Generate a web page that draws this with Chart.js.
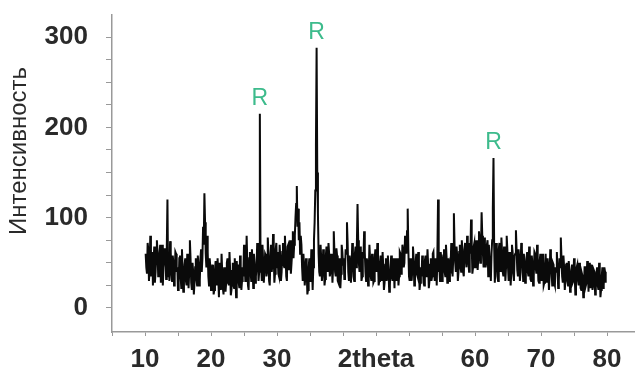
<!DOCTYPE html>
<html><head><meta charset="utf-8">
<script src="https://cdn.jsdelivr.net/npm/chart.js@4"></script>
<style>html,body{margin:0;padding:0;background:#fff}#wrap{width:635px;height:379px}</style>
</head><body><div id="wrap"><canvas id="c" width="635" height="379"></canvas></div>
<script>
// 2theta grid (degrees)
const thetaStart = 10.1;
const thetaStep = 0.1;
// intensity, one value per 0.1 deg from 10.1
const intensity = [
  60,45,38,72,65,30,42,80,35,55,62,25,50,68,28,40,58,75,62,35,
  48,60,70,28,40,70,25,45,52,66,58,32,65,120,35,50,30,74,62,38,
  30,58,50,25,35,62,60,40,45,20,28,55,58,35,22,65,42,18,30,48,
  55,30,25,60,48,22,40,75,55,28,20,50,40,15,28,45,55,32,25,58,
  48,25,30,55,65,40,55,90,70,127,95,60,45,80,62,35,25,55,45,20,
  30,48,40,15,20,42,52,30,25,55,35,12,50,38,20,60,40,22,15,45,
  40,18,28,50,55,30,25,62,42,14,20,40,50,25,22,55,38,12,52,35,
  48,28,22,58,45,20,30,45,35,70,55,30,40,80,50,25,20,55,62,40,
  30,65,45,22,60,50,28,35,45,72,55,30,40,215,60,45,30,70,52,28,
  42,60,58,35,40,78,62,30,25,55,70,40,48,82,60,28,38,65,72,45,
  62,38,35,70,55,30,40,62,72,48,45,80,60,35,30,68,70,42,48,75,
  38,50,62,85,55,70,80,100,115,135,90,110,75,95,60,80,70,45,30,60,
  48,25,35,55,42,15,20,45,55,30,35,65,50,20,45,75,95,130,180,288,
  150,105,60,40,35,70,55,30,40,65,50,25,32,58,68,45,40,72,60,35,
  40,60,52,28,45,85,62,40,35,66,58,30,28,55,45,22,38,70,62,48,
  55,32,40,65,60,95,72,40,30,58,50,28,45,72,62,35,30,60,68,45,
  70,115,75,50,40,68,58,30,35,62,55,85,62,40,30,55,50,25,38,70,
  55,35,30,60,52,28,30,55,65,45,40,72,55,25,30,50,58,38,30,62,
  45,20,28,48,55,30,35,58,40,18,25,45,58,35,30,55,45,22,55,40,
  30,50,55,25,35,62,60,38,42,70,65,45,50,80,75,60,85,110,65,35,
  30,55,50,30,42,68,55,25,30,50,60,38,35,62,48,20,28,45,35,58,
  50,28,25,52,58,35,40,65,48,22,30,48,55,30,35,60,62,40,30,55,
  48,25,60,120,40,45,30,62,55,30,40,58,65,40,35,70,55,28,40,55,
  30,48,45,72,62,35,55,105,70,50,40,68,58,30,40,62,70,45,40,75,
  62,40,35,65,72,55,45,80,68,50,40,72,60,98,70,38,45,68,72,45,
  50,75,68,42,55,85,75,50,62,106,80,60,45,78,72,45,50,70,75,35,
  70,55,48,30,60,75,110,166,70,28,45,72,62,35,30,65,72,48,40,78,
  62,40,35,68,58,30,45,80,65,45,30,62,52,25,40,70,62,38,30,58,
  60,86,65,42,35,65,55,30,40,72,65,48,30,60,50,28,38,55,62,40,
  35,68,55,32,30,58,48,25,35,62,60,45,38,70,55,30,28,52,60,38,
  30,60,52,25,28,48,60,35,28,55,45,20,35,65,58,40,25,50,48,28,
  25,45,40,62,45,22,30,55,45,78,55,35,28,58,45,20,30,48,50,30,
  25,52,42,18,22,40,48,28,30,55,38,15,25,45,48,32,25,50,42,22,
  20,38,35,12,22,45,45,25,28,52,40,18,50,35,22,48,40,20,25,42,
  40,15,22,38,45,25,20,50,38,12,20,35,45,22,25,45,40,28
];
const xTickValues = [5,10,15,20,25,30,35,40,45,50,55,60,65,70,75,80];
const xTickLabels = {10:'10',20:'20',30:'30',45:'2theta',60:'60',70:'70',80:'80'};
const yTickValues = [0,25,50,75,100,125,150,175,200,225,250,275,300];
const yTickLabels = {0:'0',100:'100',200:'200',300:'300'};
const yTitle = 'Интенсивность';
const peakText = ['R','R','R'];
const peakTheta = [27.4, 36.0, 62.8];
const peakIntensity = [215, 288, 166];

const points = intensity.map((v,i)=>({x: +(thetaStart + i*thetaStep).toFixed(1), y: v}));

const axisColor = '#999999';
const labelFont = {family:'"Liberation Sans", Arial, sans-serif', size:26, weight:'bold'};

const extras = {
  id:'extras',
  afterDatasetsDraw(chart){
    const ctx = chart.ctx, xs = chart.scales.x, ys = chart.scales.y;
    ctx.save();
    ctx.fillStyle = '#3dbb8c';
    ctx.font = '23px "Liberation Sans", Arial, sans-serif';
    ctx.textAlign = 'center';
    ctx.textBaseline = 'alphabetic';
    peakText.forEach((t,i)=>{
      ctx.fillText(t, xs.getPixelForValue(peakTheta[i]), ys.getPixelForValue(peakIntensity[i]) - 9);
    });
    ctx.restore();
    ctx.save();
    ctx.fillStyle = '#2a2a2a';
    ctx.font = '24px "Liberation Sans", Arial, sans-serif';
    ctx.translate(19, 151);
    ctx.rotate(-Math.PI/2);
    ctx.textAlign = 'center';
    ctx.textBaseline = 'middle';
    ctx.fillText(yTitle, 0, 0);
    ctx.restore();
  }
};

new Chart(document.getElementById('c'), {
  type:'line',
  data:{datasets:[{data:points, borderColor:'#0a0a0a', borderWidth:2, pointRadius:0, tension:0, fill:false}]},
  options:{
    responsive:false, animation:false, devicePixelRatio:1,
    layout:{padding:{top:15,right:0,left:0,bottom:0}},
    plugins:{legend:{display:false}, tooltip:{enabled:false}},
    scales:{
      x:{type:'linear', min:5, max:84.24,
        afterBuildTicks(s){ s.ticks = xTickValues.map(v=>({value:v})); },
        afterFit(s){ s.height = 47; s.paddingLeft = 0; s.paddingRight = 0; },
        grid:{drawOnChartArea:false, drawTicks:true, tickLength:4, color:axisColor},
        border:{display:true, color:axisColor, width:1.5},
        ticks:{autoSkip:false, maxRotation:0, padding:8, color:'#2a2a2a', font:labelFont,
          callback:(v)=> xTickLabels[v] || ''}
      },
      y:{type:'linear', min:-26.6, max:324.4,
        afterBuildTicks(s){ s.ticks = yTickValues.map(v=>({value:v})); },
        afterFit(s){ s.width = 112; s.paddingTop = 0; s.paddingBottom = 0; },
        grid:{drawOnChartArea:false, drawTicks:true, tickLength:6, color:axisColor},
        border:{display:true, color:axisColor, width:1.5},
        ticks:{autoSkip:false, padding:18, color:'#2a2a2a', font:labelFont,
          callback:(v)=> yTickLabels[v] || ''}
      }
    }
  },
  plugins:[extras]
});
</script>
</body></html>
